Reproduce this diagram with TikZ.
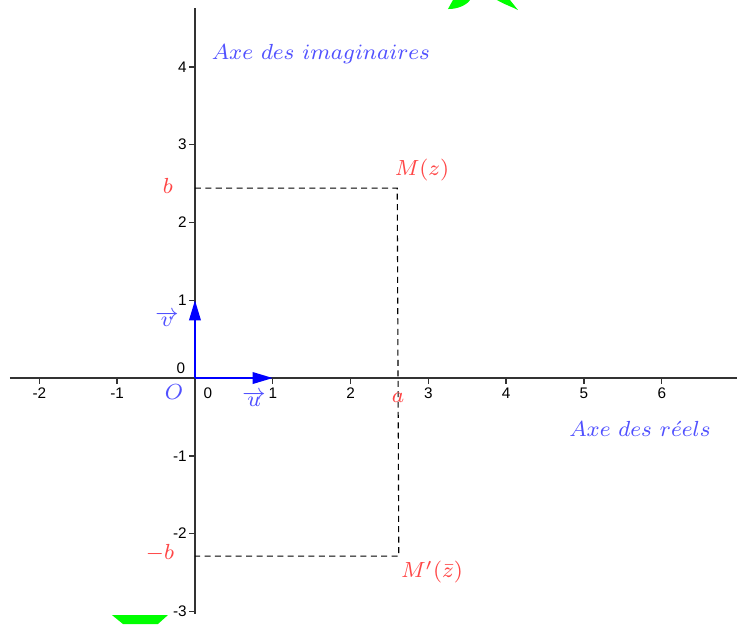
\documentclass[tikz,border=0pt]{standalone}
\usepackage{fontspec}
\newfontfamily\tickfont{Liberation Sans}
\usetikzlibrary{calc}
\usetikzlibrary{arrows.meta}

\definecolor{ptred}{RGB}{255,70,70}
\definecolor{axblue}{RGB}{80,80,255}
\definecolor{blobgreen}{RGB}{0,255,0}

\begin{document}
\begin{tikzpicture}[
  axis/.style={line width=0.5pt,draw=black!80},
  vect/.style={blue,line width=0.6pt,-{Triangle[length=2.6mm,width=1.5mm]}},
  guide/.style={dash pattern=on 2.2pt off 1.6pt,line width=0.4pt},
  ticklbl/.style={font=\tickfont\fontsize{5.6}{6.5}\selectfont,inner sep=0pt},
  ptlbl/.style={text=ptred,inner sep=0pt,font=\fontsize{8.5}{10}\selectfont},
  axlbl/.style={text=axblue,inner sep=0pt,font=\fontsize{8.5}{10}\selectfont}]
\def\ra{2.6}
\def\yb{2.44}
\def\ybb{-2.29}
\useasboundingbox (-2.506,-3.162) rectangle (6.967,4.859);

% Green pieces cut by the frame
\fill[blobgreen] (3.316,4.859) -- (3.252,4.743) .. controls (3.38,4.74) and (3.50,4.80) .. (3.535,4.859) -- cycle;
\fill[blobgreen] (3.882,4.859) .. controls (3.98,4.80) and (4.08,4.77) .. (4.152,4.730) -- (4.049,4.859) -- cycle;
\fill[blobgreen] (-1.067,-3.046) -- (-0.347,-3.046) -- (-0.476,-3.162) -- (-0.925,-3.162) -- cycle;

% Axes
\draw[axis] (-2.38,0) -- (6.967,0);
\draw[axis] (0,-3.03) -- (0,4.756);

% Graduations
\foreach \x in {-2,-1,1,2,3,4,5,6} {
  \draw[axis] (\x,0) -- (\x,-0.08);
  \node[ticklbl] (tx\x) at (\x,-0.2) {\x};
}
\node[ticklbl] (tx0) at (0.167,-0.2) {0};
\foreach \y in {-3,-2,-1,1,2,3,4} {
  \draw[axis] (0,\y) -- (-0.08,\y);
  \node[ticklbl,anchor=east] (ty\y) at (-0.1,\y) {\y};
}
\node[ticklbl] (ty0) at (-0.18,0.13) {0};

% Points
\coordinate (O) at (0,0);
\coordinate (U) at (1,0);
\coordinate (V) at (0,1);
\coordinate (M) at (\ra,\yb);
\coordinate (Mb) at (\ra+0.02,\ybb);
\coordinate (B) at (0,\yb);
\coordinate (Bm) at (0,\ybb);

% Projections
\draw[guide] (B) -- (M) -- (Mb) -- (Bm);

% Basis vectors
\draw[vect] (O) -- (U);
\draw[vect] (O) -- (V);

% Labels
\node[axlbl] (lO) at (-0.27,-0.18) {$O$};
\node[axlbl] (lu) at (0.76,-0.27) {$\overrightarrow{u}$};
\node[axlbl] (lv) at (-0.36,0.76) {$\overrightarrow{v}$};
\node[axlbl] (lim) at (1.62,4.165) {$Axe\ des\ imaginaires$};
\node[axlbl] (lre) at (5.72,-0.655) {$Axe\ des\ r\acute{e}els$};
\node[ptlbl] (lM) at (2.918,2.674) {$M(z)$};
\node[ptlbl] (lMb) at (3.046,-2.494) {$M'(\bar{z})$};
\node[ptlbl] (la) at (2.609,-0.26) {$a$};
\node[ptlbl] (lb) at (-0.347,2.468) {$b$};
\node[ptlbl] (lbm) at (-0.45,-2.249) {$-b$};
\end{tikzpicture}
\end{document}
